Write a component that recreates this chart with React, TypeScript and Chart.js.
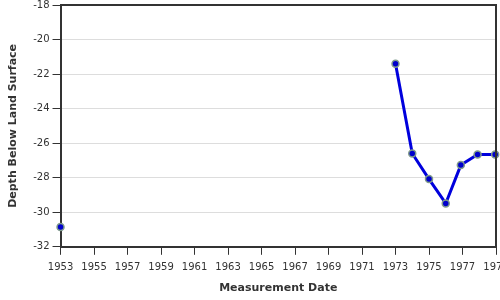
import React, { useEffect, useRef } from "react";
import { Chart, registerables } from "chart.js";

Chart.register(...registerables);

const earlyYears = [1953.0];
const earlyDepths = [-30.85];
const recentYears = [1973.0, 1974.0, 1975.0, 1976.0, 1976.9, 1977.9, 1978.95];
const recentDepths = [-21.4, -26.6, -28.08, -29.49, -27.27, -26.65, -26.65];
const yTicksMin = -32;
const yTicksMax = -18;
const xMin = 1953;
const xMax = 1979;

const boxPlugin = {
  id: "box",
  afterDraw(chart: any) {
    const { ctx, chartArea } = chart;
    ctx.save();
    ctx.strokeStyle = "#333";
    ctx.lineWidth = 2;
    ctx.beginPath();
    ctx.moveTo(chartArea.left, chartArea.top);
    ctx.lineTo(chartArea.right, chartArea.top);
    ctx.lineTo(chartArea.right, chartArea.bottom);
    ctx.stroke();
    ctx.restore();
  },
};

export default function App() {
  const ref = useRef<HTMLCanvasElement>(null);
  useEffect(() => {
    document.body.style.overflow = "hidden";
    const pts = (xs: number[], ys: number[]) => xs.map((x, i) => ({ x, y: ys[i] }));
    const style = {
      borderColor: "#0000dd",
      borderWidth: 3,
      pointBackgroundColor: "#0000cc",
      pointBorderColor: "#7f9a8c",
      pointBorderWidth: 1.5,
      pointRadius: 3.5,
      tension: 0,
      clip: false as any,
    };
    const chart = new Chart(ref.current!, {
      type: "line",
      data: {
        datasets: [
          { data: pts(earlyYears, earlyDepths), ...style },
          { data: pts(recentYears, recentDepths), ...style },
        ],
      },
      plugins: [boxPlugin],
      options: {
        animation: false,
        responsive: false,
        layout: { padding: { top: 0, right: 24, bottom: 5, left: 7 } },
        plugins: { legend: { display: false }, tooltip: { enabled: false } },
        scales: {
          x: {
            type: "linear",
            min: xMin,
            max: xMax,
            ticks: {
              stepSize: 2,
              autoSkip: false,
              maxRotation: 0,
              callback: (v: any) => String(v),
              color: "#333",
              font: { family: "DejaVu Sans", size: 10 },
              padding: 7,
            },
            grid: { drawOnChartArea: false, drawTicks: true, tickLength: 8, tickColor: "#333" },
            border: { color: "#333", width: 2 },
            title: {
              display: true,
              text: "Measurement Date",
              color: "#333",
              font: { family: "DejaVu Sans", size: 11, weight: "bold" },
              padding: { top: 1, bottom: 0 },
            },
          },
          y: {
            min: yTicksMin,
            max: yTicksMax,
            ticks: {
              stepSize: 2,
              color: "#333",
              font: { family: "DejaVu Sans", size: 10 },
              padding: 3,
            },
            grid: { color: "#dddddd", tickLength: 8, tickColor: "#333" },
            border: { color: "#333", width: 2 },
            title: {
              display: true,
              text: "Depth Below Land Surface",
              color: "#333",
              font: { family: "DejaVu Sans", size: 11, weight: "bold" },
              padding: { top: 0, bottom: 10 },
            },
          },
        },
      },
    });
    return () => chart.destroy();
  }, []);
  return (
    <div style={{ position: "absolute", left: 0, top: 0, width: 500, height: 300, overflow: "hidden" }}>
      <canvas ref={ref} width={520} height={304} style={{ position: "absolute", left: 0, top: -4 }} />
    </div>
  );
}
